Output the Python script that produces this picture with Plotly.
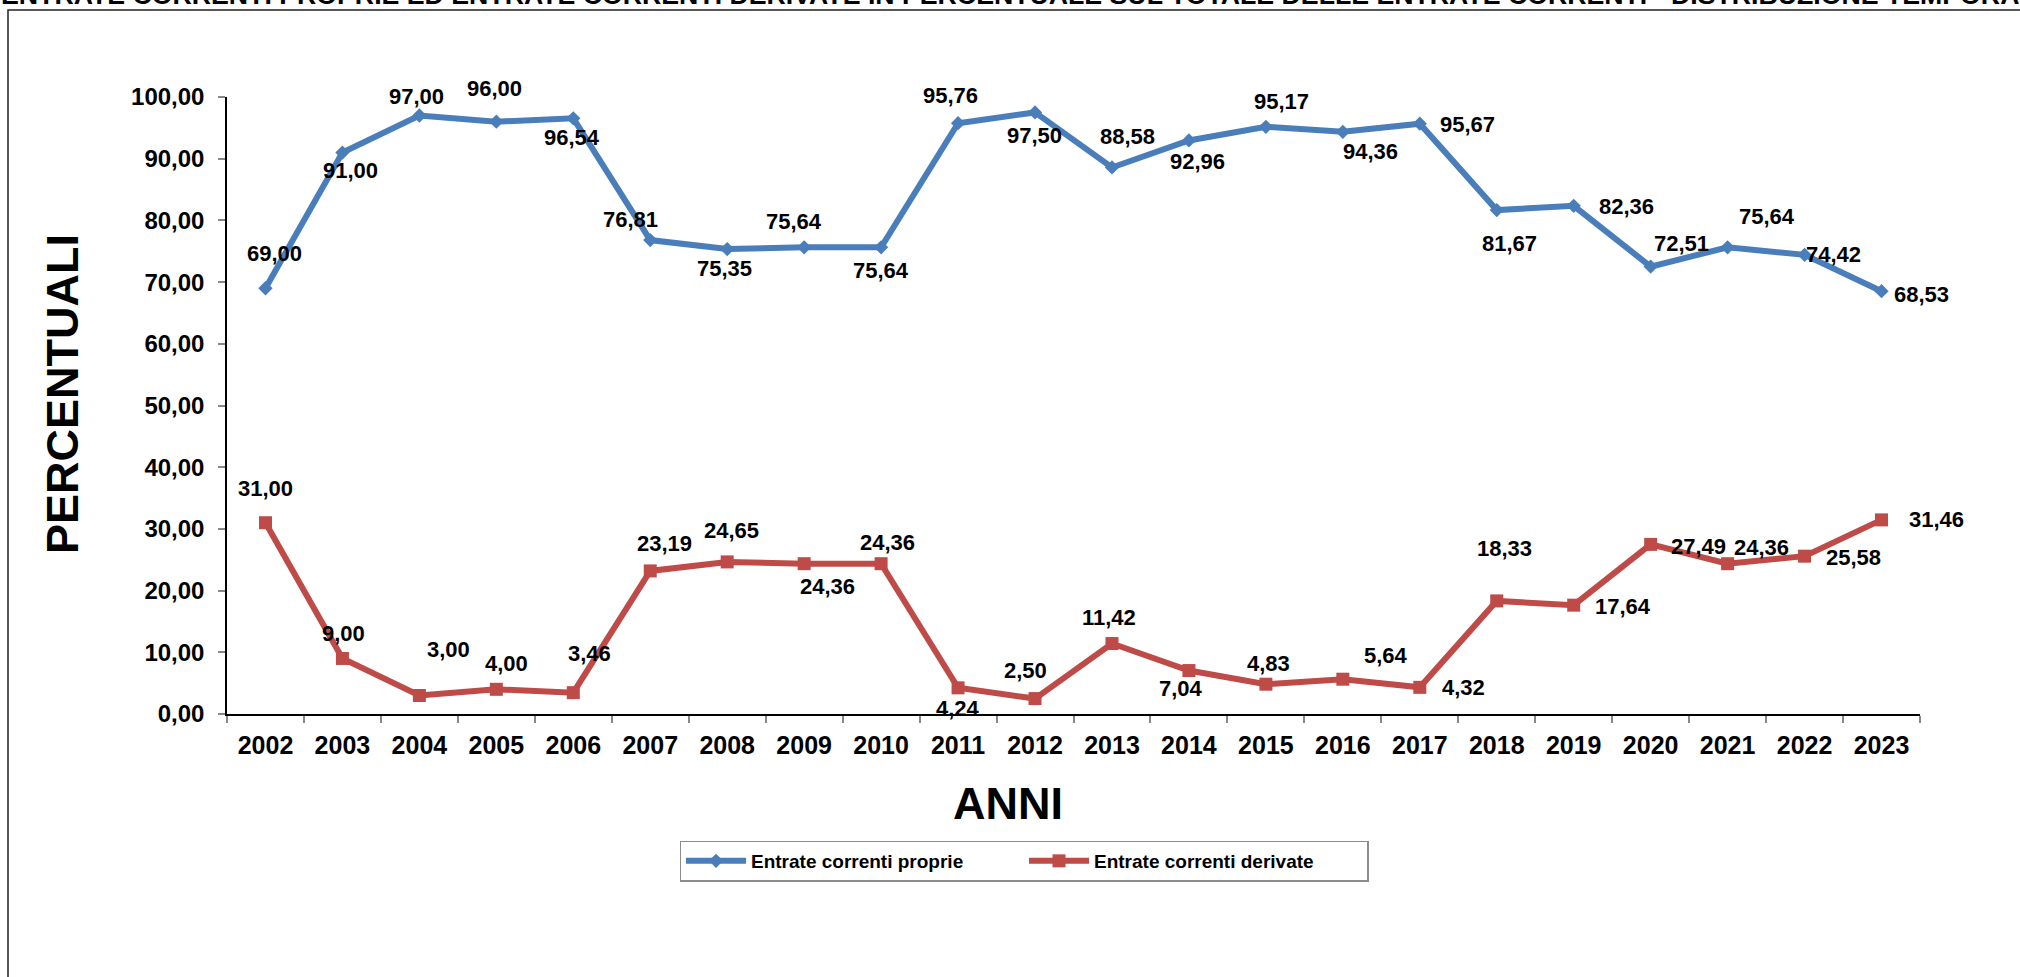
import plotly.graph_objects as go

# ---------------- data ----------------
years = [str(y) for y in range(2002, 2024)]
proprie = [69.00, 91.00, 97.00, 96.00, 96.54, 76.81, 75.35, 75.64, 75.64, 95.76, 97.50,
           88.58, 92.96, 95.17, 94.36, 95.67, 81.67, 82.36, 72.51, 75.64, 74.42, 68.53]
derivate = [31.00, 9.00, 3.00, 4.00, 3.46, 23.19, 24.65, 24.36, 24.36, 4.24, 2.50,
            11.42, 7.04, 4.83, 5.64, 4.32, 18.33, 17.64, 27.49, 24.36, 25.58, 31.46]
series_names = ["Entrate correnti proprie", "Entrate correnti derivate"]
y_ticks = [0, 10, 20, 30, 40, 50, 60, 70, 80, 90, 100]

title_text = ("ENTRATE CORRENTI PROPRIE ED ENTRATE CORRENTI DERIVATE IN PERCENTUALE "
              "SUL TOTALE DELLE ENTRATE CORRENTI - DISTRIBUZIONE TEMPORALE")

# ---------------- label offsets (style, screen px: dx right, dy down) ----------------
off_proprie = [(9, -35), (8, 18), (-3, -19), (-2, -33), (-1, 19), (-20, -21), (-3, 19),
               (-10, -26), (0, 23), (-8, -28), (-1, 23), (16, -31), (9, 21), (16, -25),
               (28, 20), (48, 1), (13, 33), (53, 1), (31, -23), (39, -31), (29, 0), (40, 3)]
off_derivate = [(0, -34), (1, -25), (29, -46), (10, -26), (16, -39), (14, -27), (4, -31),
                (23, 23), (6, -21), (0, 21), (-10, -28), (-3, -26), (-8, 18), (3, -21),
                (43, -24), (44, 0), (8, -52), (49, 1), (48, 2), (34, -16), (49, 1), (55, 0)]

# ---------------- layout geometry ----------------
W, H = 2020, 977
L, R, T, B = 227, 100, 97, 263
PW, PH = W - L - R, H - T - B


def px_x(p):
    return (p - L) / PW


def px_y(p):
    return (H - B - p) / PH


FONT = "Liberation Sans, Arial, sans-serif"
BLUE = "#4a7ebb"
RED = "#be4b48"

fig = go.Figure()
fig.add_trace(go.Scatter(
    x=years, y=proprie, name=series_names[0], mode="lines+markers",
    line=dict(color=BLUE, width=6),
    marker=dict(symbol="diamond", size=11, color=BLUE),
))
fig.add_trace(go.Scatter(
    x=years, y=derivate, name=series_names[1], mode="lines+markers",
    line=dict(color=RED, width=6),
    marker=dict(symbol="square", size=13, color=RED),
))


def fmt(v):
    return f"{v:.2f}".replace(".", ",")


annotations = []
for vals, offs in ((proprie, off_proprie), (derivate, off_derivate)):
    for i, (v, (dx, dy)) in enumerate(zip(vals, offs)):
        annotations.append(dict(
            x=i, y=v, xref="x", yref="y", text=fmt(v), showarrow=False,
            xshift=dx, yshift=-dy,
            font=dict(family=FONT, size=22, color="black", weight="bold"),
        ))

# axis titles
annotations.append(dict(
    x=px_x(1008), y=px_y(803), xref="paper", yref="paper", text="ANNI",
    showarrow=False, xanchor="center", yanchor="middle",
    font=dict(family=FONT, size=45, color="black", weight="bold"),
))
annotations.append(dict(
    x=px_x(62), y=px_y(394), xref="paper", yref="paper", text="PERCENTUALI",
    showarrow=False, xanchor="center", yanchor="middle", textangle=-90,
    font=dict(family=FONT, size=45, color="black", weight="bold"),
))
# chart title, partly outside the top edge as in the original
annotations.append(dict(
    x=px_x(-1), y=px_y(-5), xref="paper", yref="paper", text=title_text,
    showarrow=False, xanchor="left", yanchor="middle",
    font=dict(family=FONT, size=26.7, color="black", weight="bold"),
))

fig.update_layout(
    width=W, height=H,
    margin=dict(l=L, r=R, t=T, b=B, pad=0),
    paper_bgcolor="white", plot_bgcolor="white",
    separators=",.",
    showlegend=True,
    legend=dict(
        orientation="h", x=px_x(1024), y=px_y(861), xanchor="center", yanchor="middle",
        bordercolor="#8c8c8c", borderwidth=1.5, bgcolor="white",
        font=dict(family=FONT, size=19, color="black", weight="bold"),
        entrywidth=268, itemwidth=60,
    ),
    annotations=annotations,
    shapes=[dict(
        type="rect", xref="paper", yref="paper",
        x0=px_x(8), x1=px_x(W + 50), y0=px_y(10), y1=px_y(H + 50),
        line=dict(color="#222222", width=1.5), fillcolor="rgba(0,0,0,0)", layer="below",
    )],
)

fig.update_xaxes(
    type="category", range=[-0.5, len(years) - 0.5],
    showgrid=False, zeroline=False,
    showline=True, linecolor="black", linewidth=1.5,
    ticks="outside", tickson="boundaries", ticklen=7, tickcolor="#888888", tickwidth=1.5,
    tickfont=dict(family=FONT, size=25, color="black", weight="bold"),
    ticklabelstandoff=8,
)
fig.update_yaxes(
    range=[0, 100], tickvals=y_ticks, tickformat=".2f",
    showgrid=False, zeroline=False,
    showline=True, linecolor="black", linewidth=1.5,
    ticks="outside", ticklen=7, tickcolor="#888888", tickwidth=1.5,
    tickfont=dict(family=FONT, size=24, color="black", weight="bold"),
    ticklabelstandoff=9,
)

fig.write_html("out.html")
